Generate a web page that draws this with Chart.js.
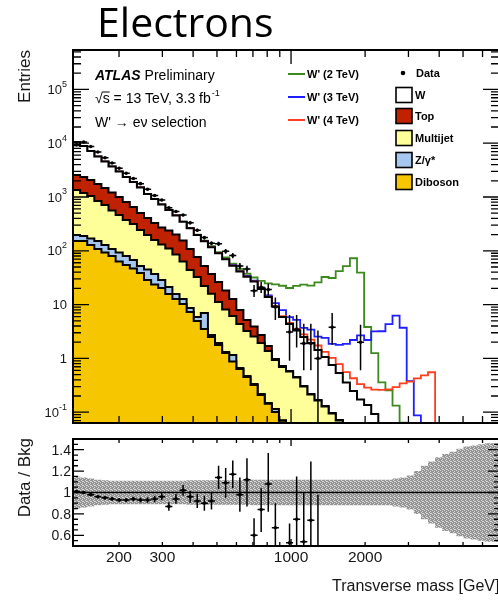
<!DOCTYPE html>
<html lang="en">
<head>
<meta charset="UTF-8">
<title>W' → eν transverse mass</title>
<script src="https://cdn.jsdelivr.net/npm/chart.js"></script>
<style>
  html, body { margin: 0; padding: 0; background: #fff; overflow: hidden; }
  #wrap { position: relative; width: 498px; height: 601px; overflow: hidden; }
  #mainChart { position: absolute; left: 0; top: 0; }
  #ratioChart { position: absolute; left: 0; top: 430px; }
</style>
</head>
<body>
<div id="wrap">
  <canvas id="mainChart" width="520" height="430"></canvas>
  <canvas id="ratioChart" width="520" height="171"></canvas>
</div>
<script>
// mT bin edges [GeV]
const binEdges = [130, 138.9, 148.5, 158.7, 169.6, 181.2, 193.7, 207.0, 221.2, 236.4,
  252.6, 270.0, 288.5, 308.3, 329.5, 352.2, 376.4, 402.2, 429.9, 459.4,
  491.0, 524.7, 560.8, 599.3, 640.4, 684.4, 731.4, 781.7, 835.4, 892.8,
  954.0, 1019.4, 1089.5, 1164.4, 1244.3, 1329.8, 1421.2, 1518.8, 1623.2, 1734.7,
  1853.8, 1981.2, 2117.3, 2262.7, 2418.2, 2584.3, 2761.8, 2951.5, 3154.3, 3370.9,
  3602.5, 3850.0, 4114.5, 4397.1, 4699.1, 5022.0, 5366.9, 5735.6, 6129.6, 6550.6, 7000];

// background yields per bin
const wYield = [7073, 7941, 6501, 5074, 3909, 3093, 2470, 1972, 1544, 1249,
  996, 728, 588, 453, 335, 252, 190, 154, 119, 97.8,
  79.9, 63.7, 51.7, 40.3, 33.1, 27.8, 23.0, 16.8, 12.1, 8.22,
  5.18, 3.78, 2.85, 2.19, 1.72, 1.27, 0.929, 0.658, 0.464, 0.317,
  0.218, 0.153, 0.121, 0.083, 0.055, 0.035, 0.022, 0.014, 0.009, 0.006,
  0.004, 0.003, 0.002, 0.0015, 0.001, 0.0008, 0.0006, 0.0005, 0.0004, 0.0003];
const topYield = [921, 1212, 1164, 1024, 900, 758, 650, 536, 433, 336,
  261, 210, 169, 140, 128, 116, 91.8, 64, 44.1, 30,
  21.3, 15.1, 10.2, 6.55, 3.57, 1.94, 1.36, 0.79, 0.32, 0.041,
  0.03, 0.013, 0.009, 0.007, 0.005, 0.004, 0.003, 0.002, 0.0016, 0,
  0, 0, 0, 0, 0, 0, 0, 0, 0, 0,
  0, 0, 0, 0, 0, 0, 0, 0, 0, 0];
const multijetYield = [1056, 1150, 997, 873, 689, 581, 452, 369, 293, 248,
  191, 152, 122, 102, 88.7, 69.5, 50.5, 35.4, 26.7, 15.2,
  13.1, 9.26, 6.80, 4.99, 3.71, 2.77, 2.23, 1.72, 1.23, 0.821,
  0.624, 0.532, 0.423, 0.301, 0.214, 0.165, 0.128, 0.095, 0.070, 0.040,
  0.030, 0.020, 0.015, 0.010, 0.005, 0, 0, 0, 0, 0,
  0, 0, 0, 0, 0, 0, 0, 0, 0, 0];
const zYield = [57, 45, 36, 41, 44, 35.1, 28, 29.7, 25.5, 20.6,
  13.5, 16.2, 13.5, 8.3, 5.5, 3.1, 2.4, 1.36, 0.93, 3.47,
  0.23, 0.16, 0.06, 0.28, 0.028, 0.02, 0.014, 0.01, 0.006, 0.014,
  0.002, 0, 0, 0, 0, 0, 0, 0, 0, 0,
  0, 0, 0, 0, 0, 0, 0, 0, 0, 0,
  0, 0, 0, 0, 0, 0, 0, 0, 0, 0];
const dibosonYield = [123, 152, 152, 128, 108, 92.9, 80.0, 63.2, 54.5, 46.9,
  38.7, 28.7, 23.6, 20.4, 15.8, 12.7, 10.3, 7.29, 4.96, 3.52,
  2.50, 1.78, 1.26, 0.878, 0.637, 0.452, 0.321, 0.209, 0.143, 0.101,
  0.069, 0.04, 0.02, 0, 0, 0, 0, 0, 0, 0,
  0, 0, 0, 0, 0, 0, 0, 0, 0, 0,
  0, 0, 0, 0, 0, 0, 0, 0, 0, 0];

// W' signal yields, drawn stacked on the total background
const wp2000 = [3, 3, 3, 3, 3, 3, 3, 3.5, 3.5, 3.5,
  3.5, 4, 4, 4, 4, 4, 4, 4.5, 4.5, 4.5,
  4.5, 4.5, 5, 5, 5, 4.5, 5, 8, 11, 14.5,
  16.5, 16, 19, 21, 20.5, 24.5, 31.5, 30.5, 41.5, 51.5,
  72.5, 39, 3.7, 1.16, 0.30, 0.22, 0.11, 0.05, 0.03, 0.02,
  0.015, 0.012, 0.01, 0.008, 0.006, 0.005, 0.004, 0.003, 0.002, 0.002];
const wp3000 = [0.8, 0.8, 0.8, 0.8, 0.8, 0.8, 0.8, 0.8, 0.8, 0.8,
  1, 1, 1, 1, 1, 1, 1, 1, 1, 1,
  1, 1, 1, 1, 1, 1, 1, 1, 1, 1.5,
  2, 1.5, 1.9, 1.2, 1.5, 1.1, 1.35, 1.1, 1.25, 1.5,
  1.95, 2.5, 2.06, 3.1, 3.14, 4.3, 6.2, 3.7, 0.37, 0.081,
  0.02, 0.01, 0.01, 0.008, 0.006, 0.005, 0.004, 0.003, 0.002, 0.002];
const wp4000 = [0.2, 0.2, 0.2, 0.2, 0.2, 0.2, 0.2, 0.2, 0.2, 0.2,
  0.2, 0.2, 0.2, 0.2, 0.2, 0.2, 0.2, 0.2, 0.2, 0.2,
  0.2, 0.2, 0.2, 0.2, 0.2, 0.2, 0.2, 0.2, 0.2, 0.2,
  0.2, 0.2, 0.2, 0.3, 0.3, 0.3, 0.26, 0.27, 0.25, 0.2,
  0.18, 0.16, 0.15, 0.17, 0.2, 0.23, 0.27, 0.33, 0.36, 0.42,
  0.48, 0.55, 0.003, 0.001, 0.001, 0.001, 0.001, 0.001, 0.001, 0.001];

// observed events and their error bars
const dataCounts = [9320, 10500, 8670, 6850, 5370, 4290, 3420, 2760, 2210, 1770,
  1395, 1067, 879, 630, 539, 462, 331, 241, 176, 138,
  135, 98, 82, 52, 46, 18, 21, 19, 9, null,
  3.1, 3.5, 1.9, 1.9, 1.0, null, 3.8, null, null, null,
  2.0, null, null, null, null, null, null, null, null, null,
  null, null, null, null, null, null, null, null, null, null];
const dataErrLo = [97, 102, 93, 83, 73, 65, 58, 53, 47, 42,
  37, 33, 30, 25, 23, 21.5, 18, 15.5, 13.3, 11.7,
  11.6, 9.9, 9.1, 7.2, 6.8, 4.2, 4.5, 4.3, 3.8, null,
  2.2, 1.9, 1.3, 1.3, 0.99, null, 2.0, null, null, null,
  1.4];
const dataErrHi = [97, 102, 93, 83, 73, 65, 58, 53, 47, 42,
  37, 33, 30, 25, 23, 21.5, 18, 15.5, 13.3, 11.7,
  11.6, 9.9, 9.1, 7.2, 6.8, 5.2, 5.5, 5.3, 4.5, null,
  3.3, 2.9, 2.5, 2.5, 2.3, null, 3.2, null, null, null,
  2.2];

// Data / Bkg ratio
const ratioValues = [1.01, 1.00, 0.98, 0.96, 0.95, 0.94, 0.93, 0.93, 0.94, 0.93,
  0.93, 0.94, 0.96, 0.87, 0.94, 1.02, 0.96, 0.92, 0.90, 0.92,
  1.14, 1.09, 1.17, 0.98, 1.12, 0.60, 0.84, 1.08, 0.67, null,
  0.53, 0.75, 0.54, 0.74, 0.40];
const ratioErrLo = [0.012, 0.011, 0.012, 0.013, 0.014, 0.015, 0.017, 0.019, 0.021, 0.023,
  0.025, 0.03, 0.033, 0.04, 0.045, 0.05, 0.055, 0.065, 0.07, 0.08,
  0.11, 0.14, 0.13, 0.16, 0.25, 0.1, 0.21, 0.26, 0.25, null,
  0.1, 0.3, 0.3, 0.3, 0.3];
const ratioErrHi = [0.012, 0.011, 0.012, 0.013, 0.014, 0.015, 0.017, 0.019, 0.021, 0.023,
  0.025, 0.03, 0.033, 0.04, 0.045, 0.05, 0.055, 0.065, 0.07, 0.08,
  0.11, 0.14, 0.13, 0.16, 0.2, 0.16, 0.2, 0.29, 0.23, null,
  0.18, 0.4, 0.46, 0.55, 0.58];
// relative background uncertainty
const bkgUncertainty = [0.16, 0.15, 0.14, 0.13, 0.12, 0.115, 0.11, 0.11, 0.11, 0.11,
  0.11, 0.11, 0.11, 0.11, 0.11, 0.11, 0.11, 0.115, 0.115, 0.115,
  0.115, 0.115, 0.115, 0.115, 0.115, 0.115, 0.12, 0.12, 0.12, 0.12,
  0.12, 0.12, 0.12, 0.12, 0.12, 0.12, 0.12, 0.12, 0.12, 0.12,
  0.12, 0.12, 0.12, 0.12, 0.12, 0.12, 0.13, 0.14, 0.16, 0.2,
  0.25, 0.29, 0.33, 0.36, 0.38, 0.41, 0.43, 0.44, 0.45, 0.46];

// axis ticks and labels
const xTickValues = [200, 300, 400, 500, 600, 700, 800, 900, 1000, 2000, 3000, 4000, 5000, 6000];
const xMajorTicks = [1000];
const xTickLabels = [200, 300, 1000, 2000];
const yLabelValues = [0.1, 1, 10, 100, 1000, 10000, 100000];
const yLabelExponents = ['-1', null, null, '2', '3', '4', '5'];
const ratioLabelValues = [0.6, 0.8, 1, 1.2, 1.4];
const ratioLabelText = ['0.6', '0.8', '1', '1.2', '1.4'];

const nBins = binEdges.length - 1;
const binCenter = i => Math.sqrt(binEdges[i] * binEdges[i + 1]);
const FLOOR = 1e-4;

function cumulate(...layers) {
  return layers[0].map((_, i) => layers.reduce((s, l) => s + l[i], 0));
}
const dibosonStack = cumulate(dibosonYield);
const zStack = cumulate(dibosonYield, zYield);
const multijetStack = cumulate(dibosonYield, zYield, multijetYield);
const topStack = cumulate(dibosonYield, zYield, multijetYield, topYield);
const bkgTotal = cumulate(dibosonYield, zYield, multijetYield, topYield, wYield);

function histPoints(vals) {
  const pts = vals.map((v, i) => ({ x: binEdges[i], y: Math.max(v, FLOOR) }));
  pts.push({ x: binEdges[nBins], y: Math.max(vals[nBins - 1], FLOOR) });
  return pts;
}

function stackSet(label, vals, color, order) {
  return {
    label, data: histPoints(vals), stepped: 'after', order,
    borderColor: '#000', borderWidth: 2, backgroundColor: color,
    fill: 'start', pointRadius: 0
  };
}

function signalSet(label, sig, color, order) {
  return {
    label, data: histPoints(bkgTotal.map((b, i) => b + sig[i])), stepped: 'after', order,
    borderColor: color, borderWidth: 1.8, fill: false, pointRadius: 0
  };
}

function pointsOf(vals) {
  return vals.map((v, i) => (v === null ? null : { x: binCenter(i), y: v })).filter(Boolean);
}

function errorBars(id, vals, lo, hi) {
  return {
    id,
    afterDatasetsDraw(chart) {
      const { ctx, chartArea: a, scales: { x, y } } = chart;
      ctx.save();
      ctx.beginPath();
      ctx.rect(a.left, a.top, a.right - a.left, a.bottom - a.top);
      ctx.clip();
      ctx.strokeStyle = '#000';
      ctx.lineWidth = 1.5;
      vals.forEach((v, i) => {
        if (v === null || v === undefined) return;
        const xc = x.getPixelForValue(binCenter(i));
        const yv = y.getPixelForValue(v);
        const low = v - lo[i];
        const yLo = low > 0 || y.type !== 'logarithmic' ? y.getPixelForValue(low) : a.bottom + 5;
        const yHi = y.getPixelForValue(v + hi[i]);
        ctx.beginPath();
        ctx.moveTo(x.getPixelForValue(binEdges[i]), yv);
        ctx.lineTo(x.getPixelForValue(binEdges[i + 1]), yv);
        ctx.moveTo(xc, yLo);
        ctx.lineTo(xc, yHi);
        ctx.stroke();
      });
      ctx.restore();
    }
  };
}

function drawXTicks(ctx, a, x, minorLen, majorLen) {
  xTickValues.forEach(v => {
    const px = x.getPixelForValue(v);
    const len = xMajorTicks.includes(v) ? majorLen : minorLen;
    ctx.moveTo(px, a.bottom); ctx.lineTo(px, a.bottom - len);
    ctx.moveTo(px, a.top); ctx.lineTo(px, a.top + len);
  });
}

function drawYTick(ctx, a, py, len) {
  ctx.moveTo(a.left, py); ctx.lineTo(a.left + len, py);
  ctx.moveTo(a.right, py); ctx.lineTo(a.right - len, py);
}

const FONT = '"Liberation Sans", Arial, Helvetica, sans-serif';

const mainDecor = {
  id: 'mainDecor',
  afterDraw(chart) {
    const { ctx, chartArea: a, scales: { x, y } } = chart;
    ctx.save();

    // frame and ticks
    ctx.strokeStyle = '#000';
    ctx.lineWidth = 1.3;
    ctx.beginPath();
    drawXTicks(ctx, a, x, 7, 14);
    for (let e = -2; e <= 6; e++) {
      for (let k = 1; k <= 9; k++) {
        const v = k * Math.pow(10, e);
        if (v <= y.min || v >= y.max) continue;
        drawYTick(ctx, a, y.getPixelForValue(v), k === 1 ? 16 : 8);
      }
    }
    ctx.stroke();
    ctx.lineWidth = 2;
    ctx.strokeRect(a.left, a.top, a.right - a.left, a.bottom - a.top);

    // y tick labels
    ctx.fillStyle = '#161616';
    ctx.textBaseline = 'middle';
    yLabelValues.forEach((v, i) => {
      const py = y.getPixelForValue(v) + 1;
      const exp = yLabelExponents[i];
      let right = 67;
      if (exp) {
        ctx.font = '9px ' + FONT;
        const w = ctx.measureText(exp).width;
        ctx.textAlign = 'left';
        ctx.fillText(exp, right - w, py - 6);
        right -= w;
      }
      ctx.font = '13px ' + FONT;
      ctx.textAlign = 'right';
      ctx.fillText(v === 1 ? '1' : '10', right, py);
    });

    // y title
    ctx.save();
    ctx.translate(25, 50);
    ctx.rotate(-Math.PI / 2);
    ctx.font = '17px ' + FONT;
    ctx.textAlign = 'right';
    ctx.fillText('Entries', 0, 0);
    ctx.restore();

    // panel heading
    ctx.font = '41px "Open Sans", "Noto Sans", sans-serif';
    ctx.textAlign = 'left';
    ctx.textBaseline = 'alphabetic';
    ctx.fillStyle = '#000';
    ctx.fillText('Electrons', 97, 37);

    // ATLAS label
    ctx.textBaseline = 'middle';
    ctx.font = 'italic bold 14px ' + FONT;
    ctx.fillText('ATLAS', 95, 76);
    const wAtlas = ctx.measureText('ATLAS').width;
    ctx.font = '14px ' + FONT;
    ctx.fillText('Preliminary', 95 + wAtlas + 4, 76);
    const root = '√';
    const wRoot = ctx.measureText(root).width;
    ctx.fillText(root + 's = 13 TeV, 3.3 fb', 95, 99);
    const wS = ctx.measureText('s').width;
    const wLine = ctx.measureText(root + 's = 13 TeV, 3.3 fb').width;
    ctx.lineWidth = 1;
    ctx.beginPath();
    ctx.moveTo(95 + wRoot - 0.5, 92); ctx.lineTo(95 + wRoot + wS, 92);
    ctx.stroke();
    ctx.font = '9px ' + FONT;
    ctx.fillText('-1', 95 + wLine + 1, 94);
    ctx.font = '14px ' + FONT;
    ctx.fillText("W' → eν selection", 95, 123);

    // legend: signals
    ctx.font = 'bold 11px ' + FONT;
    const sigLegend = [["W' (2 TeV)", '#3c8a1e', 74], ["W' (3 TeV)", '#1f1fff', 97], ["W' (4 TeV)", '#ff3d1f', 120]];
    sigLegend.forEach(([t, c, ly]) => {
      ctx.strokeStyle = c;
      ctx.lineWidth = 2;
      ctx.beginPath(); ctx.moveTo(288, ly); ctx.lineTo(305, ly); ctx.stroke();
      ctx.fillStyle = '#000';
      ctx.fillText(t, 307, ly + 0.5);
    });

    // legend: data and backgrounds
    ctx.beginPath(); ctx.arc(403, 73, 2.3, 0, Math.PI * 2); ctx.fill();
    ctx.fillText('Data', 416, 73.5);
    const bkgLegend = [['W', '#ffffff', 95], ['Top', '#c02200', 116], ['Multijet', '#ffff99', 138], ['Z/γ*', '#a6c8f0', 160], ['Diboson', '#f6c600', 182]];
    bkgLegend.forEach(([t, c, ly]) => {
      ctx.fillStyle = c;
      ctx.fillRect(396, ly - 7.5, 16, 15);
      ctx.strokeStyle = '#000';
      ctx.lineWidth = 1.6;
      ctx.strokeRect(396, ly - 7.5, 16, 15);
      ctx.fillStyle = '#000';
      ctx.fillText(t, 415, ly + 0.5);
    });
    ctx.restore();
  }
};

const mainChart = new Chart(document.getElementById('mainChart'), {
  type: 'line',
  data: {
    datasets: [
      { label: 'Data', data: pointsOf(dataCounts), showLine: false, order: 0,
        pointRadius: 1.8, pointBackgroundColor: '#000', pointBorderWidth: 0 },
      stackSet('Diboson', dibosonStack, '#f6c600', 5),
      stackSet('Z/γ*', zStack, '#a6c8f0', 6),
      stackSet('Multijet', multijetStack, '#ffff99', 7),
      stackSet('Top', topStack, '#c02200', 8),
      stackSet('W', bkgTotal, '#ffffff', 9),
      signalSet("W' (4 TeV)", wp4000, '#ff3d1f', 10),
      signalSet("W' (3 TeV)", wp3000, '#1f1fff', 11),
      signalSet("W' (2 TeV)", wp2000, '#3c8a1e', 12)
    ]
  },
  options: {
    responsive: false,
    animation: false,
    devicePixelRatio: 1,
    events: [],
    layout: { padding: { left: 73, top: 50, right: 21, bottom: 7 } },
    plugins: { legend: { display: false }, tooltip: { enabled: false } },
    scales: {
      x: { type: 'logarithmic', min: 130, max: 7000, bounds: 'data', display: false },
      y: { type: 'logarithmic', min: 0.063, max: 5.4e5, bounds: 'data', display: false }
    }
  },
  plugins: [errorBars('dataErrors', dataCounts, dataErrLo, dataErrHi), mainDecor]
});

// stippled grey fill for the uncertainty band
const patternCanvas = document.createElement('canvas');
patternCanvas.width = 4;
patternCanvas.height = 4;
const pctx = patternCanvas.getContext('2d');
pctx.fillStyle = '#939393';
pctx.fillRect(0, 0, 4, 4);
pctx.fillStyle = '#dadada';
[[0, 0], [2, 1], [1, 2], [3, 3], [2, 3]].forEach(([px, py]) => pctx.fillRect(px, py, 1, 1));
const bandPattern = pctx.createPattern(patternCanvas, 'repeat');

const ratioDecor = {
  id: 'ratioDecor',
  afterDraw(chart) {
    const { ctx, chartArea: a, scales: { x, y } } = chart;
    ctx.save();
    ctx.strokeStyle = '#000';
    ctx.lineWidth = 1.3;
    ctx.beginPath();
    drawXTicks(ctx, a, x, 4, 7);
    for (let v = 0.55; v < 1.5; v += 0.05) {
      const major = ratioLabelValues.some(r => Math.abs(r - v) < 1e-6);
      drawYTick(ctx, a, y.getPixelForValue(v), major ? 11 : 5);
    }
    ctx.stroke();
    ctx.lineWidth = 2;
    ctx.strokeRect(a.left, a.top, a.right - a.left, a.bottom - a.top);

    ctx.fillStyle = '#161616';
    ctx.textBaseline = 'middle';
    ctx.textAlign = 'right';
    ctx.font = '14px ' + FONT;
    ratioLabelValues.forEach((v, i) => ctx.fillText(ratioLabelText[i], 71, y.getPixelForValue(v) + 1));

    ctx.textAlign = 'center';
    ctx.font = '15.5px ' + FONT;
    xTickLabels.forEach(v => ctx.fillText(String(v), x.getPixelForValue(v), 128));

    ctx.textAlign = 'left';
    ctx.font = '16px ' + FONT;
    ctx.fillText('Transverse mass [GeV]', 332, 157);

    ctx.save();
    ctx.translate(25, 8);
    ctx.rotate(-Math.PI / 2);
    ctx.font = '17px ' + FONT;
    ctx.textAlign = 'right';
    ctx.fillText('Data / Bkg', 0, 0);
    ctx.restore();
    ctx.restore();
  }
};

const ratioChart = new Chart(document.getElementById('ratioChart'), {
  type: 'line',
  data: {
    datasets: [
      { label: 'band low', data: histPoints(bkgUncertainty.map(u => 1 - u)), stepped: 'after',
        borderColor: 'rgba(0,0,0,0)', borderWidth: 0, pointRadius: 0, fill: false, order: 10 },
      { label: 'band high', data: histPoints(bkgUncertainty.map(u => 1 + u)), stepped: 'after',
        borderColor: 'rgba(0,0,0,0)', borderWidth: 0, pointRadius: 0, fill: '-1',
        backgroundColor: bandPattern, order: 9 },
      { label: 'unity', data: [{ x: binEdges[0], y: 1 }, { x: binEdges[nBins], y: 1 }],
        borderColor: '#000', borderWidth: 1.5, pointRadius: 0, fill: false, order: 5 },
      { label: 'Data / Bkg', data: pointsOf(ratioValues), showLine: false, order: 0,
        pointRadius: 1.8, pointBackgroundColor: '#000', pointBorderWidth: 0 }
    ]
  },
  options: {
    responsive: false,
    animation: false,
    devicePixelRatio: 1,
    events: [],
    layout: { padding: { left: 73, top: 9, right: 21, bottom: 55 } },
    plugins: { legend: { display: false }, tooltip: { enabled: false } },
    scales: {
      x: { type: 'logarithmic', min: 130, max: 7000, bounds: 'data', display: false },
      y: { type: 'linear', min: 0.5, max: 1.5, display: false }
    }
  },
  plugins: [errorBars('ratioErrors', ratioValues, ratioErrLo, ratioErrHi), ratioDecor]
});
</script>
</body>
</html>
